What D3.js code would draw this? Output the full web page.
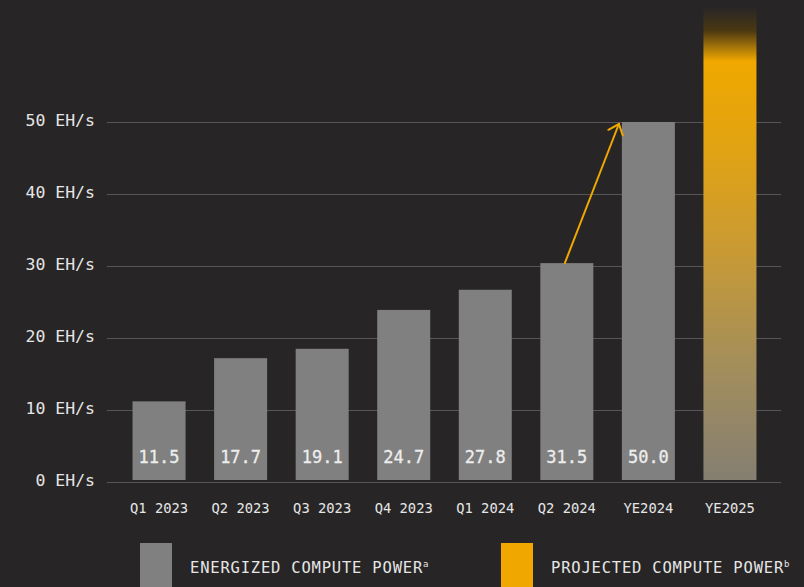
<!DOCTYPE html>
<html>
<head>
<meta charset="utf-8">
<script src="https://cdn.jsdelivr.net/npm/d3@7"></script>
<style>
  html, body { margin: 0; padding: 0; background: #272526; }
  svg { display: block; }
  text { font-family: "DejaVu Sans Mono", "Liberation Mono", monospace; }
</style>
</head>
<body>
<div class="chart"></div>
<script>
// data
var categories = ["Q1 2023", "Q2 2023", "Q3 2023", "Q4 2023", "Q1 2024", "Q2 2024", "YE2024", "YE2025"];
var barValues = [11.2, 17.2, 18.5, 23.9, 26.7, 30.4, 50.0, 66.0];   // heights as drawn
var valueLabels = ["11.5", "17.7", "19.1", "24.7", "27.8", "31.5", "50.0", ""];
var yTicks = [0, 10, 20, 30, 40, 50];
var legendItems = [
  { name: "ENERGIZED COMPUTE POWER", sup: "a" },
  { name: "PROJECTED COMPUTE POWER", sup: "b" }
];

var w = 804, h = 587;

var svg = d3.select("div.chart")
            .append("svg")
            .attr("width", w)
            .attr("height", h);

svg.append("rect")
   .attr("width", w).attr("height", h)
   .attr("fill", "#272526");

var x = d3.scaleBand()
          .domain(categories)
          .range([104, 785])
          .padding(0.35);

var y = d3.scaleLinear()
          .domain([0, 50])
          .range([482, 122]);

// gradient for projected bar
var defs = svg.append("defs");
var grad = defs.append("linearGradient")
               .attr("id", "projGrad")
               .attr("x1", 0).attr("y1", 0).attr("x2", 0).attr("y2", 1);
[[0, "#272526"], [0.05, "#4a3812"], [0.115, "#f0a800"], [0.3, "#e1a313"],
 [0.5, "#cb9b32"], [0.75, "#a48e5a"], [1, "#857f72"]].forEach(function(s){
  grad.append("stop").attr("offset", s[0]).attr("stop-color", s[1]);
});

// gridlines + tick labels
var grid = svg.append("g");
grid.selectAll("line")
    .data(yTicks)
    .enter()
    .append("line")
      .attr("x1", 107).attr("x2", 781)
      .attr("y1", d => y(d) + 0.5).attr("y2", d => y(d) + 0.5)
      .attr("stroke", "#57555a")
      .attr("stroke-width", 1);

grid.selectAll("text")
    .data(yTicks)
    .enter()
    .append("text")
      .attr("x", 95)
      .attr("y", d => y(d) + 4)
      .attr("text-anchor", "end")
      .attr("fill", "#e6e6e6")
      .attr("font-size", 16.5)
      .text(d => d + " EH/s");

// bars
var bars = svg.append("g")
              .selectAll("rect")
              .data(categories)
              .enter()
              .append("rect")
                .attr("x", d => x(d))
                .attr("width", x.bandwidth())
                .attr("y", (d, i) => y(barValues[i]))
                .attr("height", (d, i) => y(0) - 2 - y(barValues[i]))
                .attr("fill", (d, i) => i === categories.length - 1 ? "url(#projGrad)" : "#808080");

// value labels inside bars
svg.append("g")
   .selectAll("text")
   .data(categories)
   .enter()
   .append("text")
     .attr("x", d => x(d) + x.bandwidth() / 2)
     .attr("y", 463)
     .attr("text-anchor", "middle")
     .attr("fill", "#ededed")
     .attr("font-size", 17)
     .attr("stroke", "#ededed")
     .attr("stroke-width", 0.3)
     .text((d, i) => valueLabels[i]);

// x labels
svg.append("g")
   .selectAll("text")
   .data(categories)
   .enter()
   .append("text")
     .attr("x", d => x(d) + x.bandwidth() / 2)
     .attr("y", 513)
     .attr("text-anchor", "middle")
     .attr("fill", "#e6e6e6")
     .attr("font-size", 13.8)
     .text(d => d);

// arrow from Q2 2024 to YE2024
var x0 = x("Q2 2024") + x.bandwidth() / 2 - 2, y0 = y(barValues[5]);
var x1 = x("YE2024") - 3, y1 = y(barValues[6]) + 2;
var ang = Math.atan2(y1 - y0, x1 - x0);
var arrow = svg.append("g")
               .attr("stroke", "#f0a800")
               .attr("stroke-width", 2)
               .attr("fill", "none")
               .attr("stroke-linecap", "round");
arrow.append("line")
     .attr("x1", x0).attr("y1", y0)
     .attr("x2", x1).attr("y2", y1);
var hl = 12, spread = 0.7;
arrow.append("path")
     .attr("d", d3.line()([
        [x1 - hl * Math.cos(ang - spread), y1 - hl * Math.sin(ang - spread)],
        [x1, y1],
        [x1 - hl * Math.cos(ang + spread), y1 - hl * Math.sin(ang + spread)]
     ]));

// legend
var legendX = [140, 501];
var legendColors = ["#808080", "#f0a800"];
var legend = svg.append("g")
                .selectAll("g")
                .data(legendItems)
                .enter()
                .append("g")
                .attr("transform", (d, i) => `translate(${legendX[i]},543)`);

legend.append("rect")
      .attr("width", 32).attr("height", 44)
      .attr("fill", (d, i) => legendColors[i]);

var lt = legend.append("text")
               .attr("x", 50).attr("y", 30)
               .attr("fill", "#e6e6e6")
               .attr("font-size", 15.5)
               .attr("letter-spacing", 0.8);
lt.append("tspan").text(d => d.name);
lt.append("tspan")
  .attr("font-size", 9)
  .attr("dy", -6)
  .text(d => d.sup);
</script>
</body>
</html>
